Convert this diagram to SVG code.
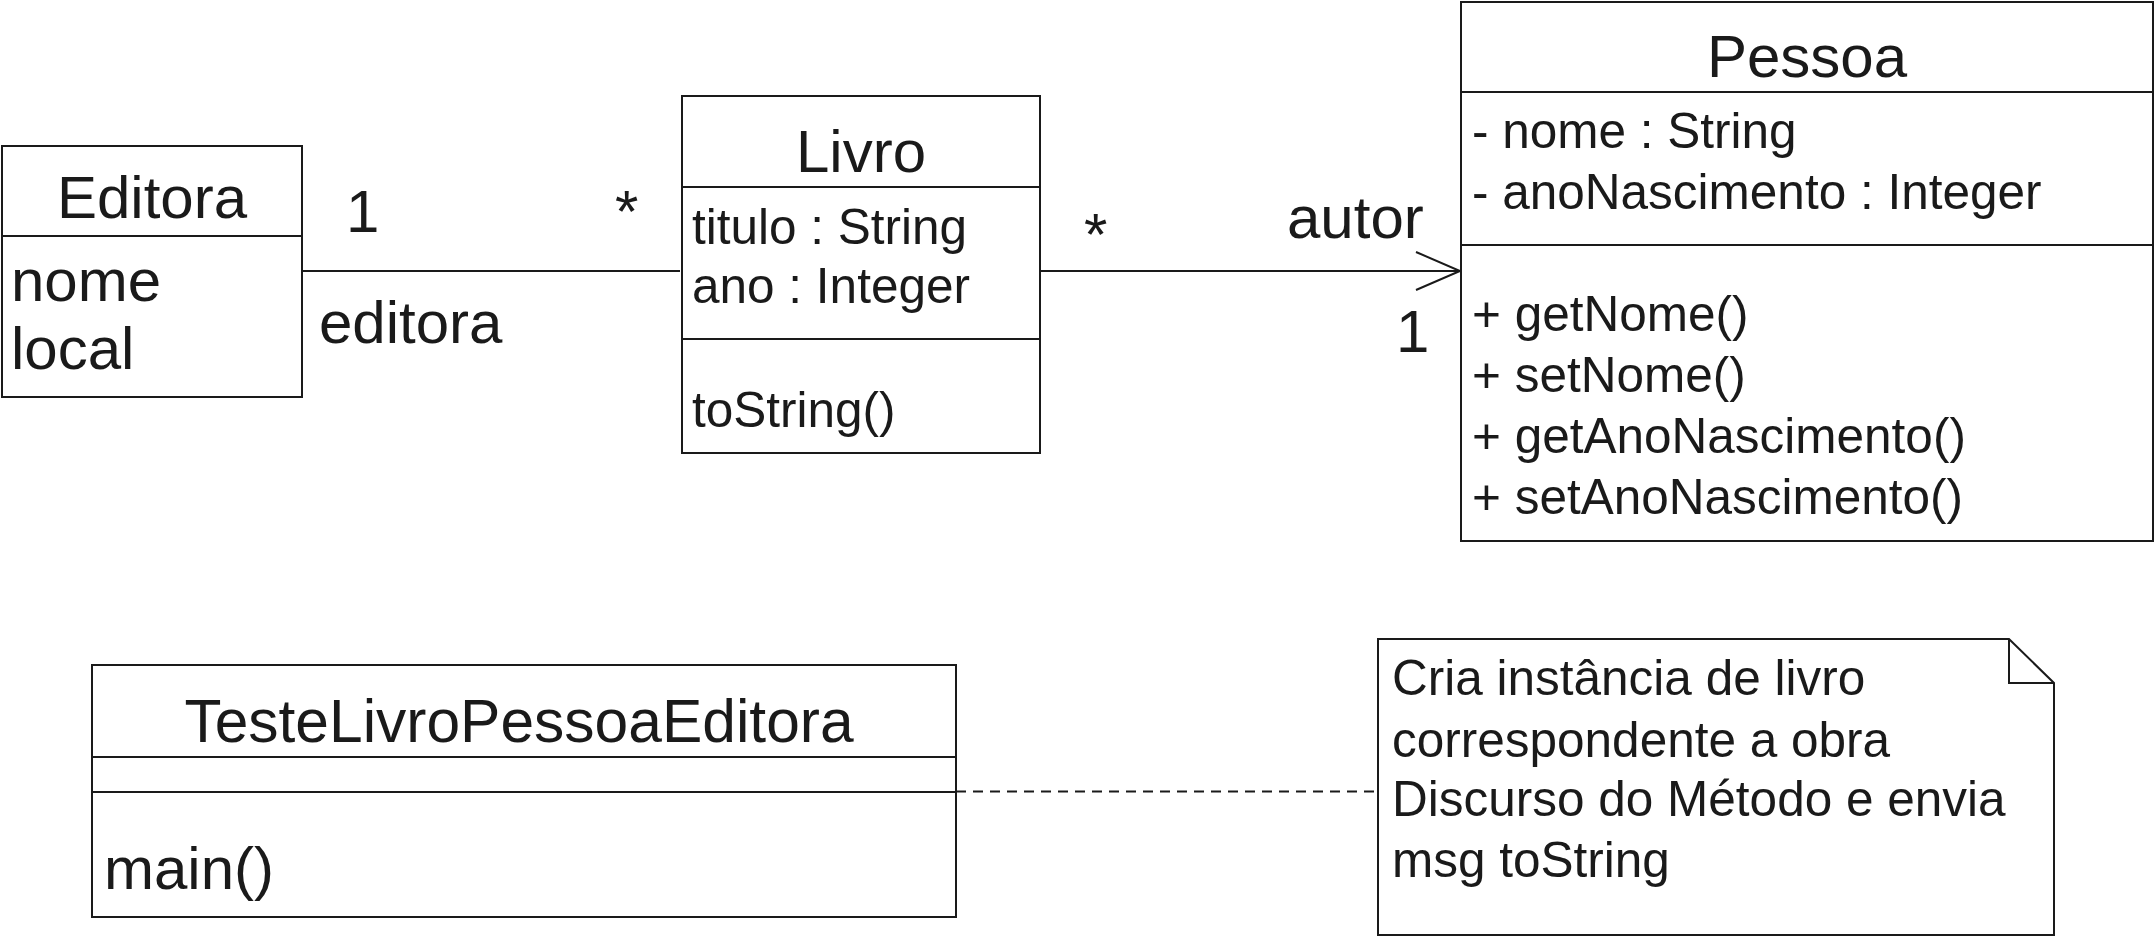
<svg xmlns="http://www.w3.org/2000/svg" width="2155" height="937" viewBox="0 0 2155 937">
<style>
  .box { fill: #ffffff; stroke: #1a1a1a; stroke-width: 2; }
  .ln { stroke: #1a1a1a; stroke-width: 2; fill: none; }
  .dash { stroke: #1a1a1a; stroke-width: 2; fill: none; stroke-dasharray: 10 7; }
  .big { font-family: "Liberation Sans", Arial, sans-serif; font-size: 60px; fill: #1a1a1a; }
  .sm { font-family: "Liberation Sans", Arial, sans-serif; font-size: 49.5px; fill: #1a1a1a; }
  .mid { text-anchor: middle; }
</style>
<rect width="2155" height="937" fill="#ffffff"/>

<g id="connectors">
  <line class="ln" x1="302" y1="271" x2="680" y2="271"/>
  <line class="ln" x1="1040" y1="271" x2="1460" y2="271"/>
  <polyline class="ln" points="1416,252 1460,271 1416,290"/>
  <line class="dash" x1="956" y1="791.5" x2="1377" y2="791.5"/>
  <text class="big" x="346" y="232">1</text>
  <text class="big" x="615" y="232">*</text>
  <text class="big" x="319" y="343">editora</text>
  <text class="big" x="1084" y="255">*</text>
  <text class="big" x="1287" y="238">autor</text>
  <text class="big" x="1396" y="352">1</text>
</g>

<g id="Editora">
  <rect class="box" x="2" y="146" width="300" height="251"/>
  <line class="ln" x1="2" y1="236" x2="302" y2="236"/>
  <text class="big mid" x="152" y="218">Editora</text>
  <text class="big" x="11" y="301">nome</text>
  <text class="big" x="11" y="369">local</text>
</g>

<g id="Livro">
  <rect class="box" x="682" y="96" width="358" height="357"/>
  <line class="ln" x1="682" y1="187" x2="1040" y2="187"/>
  <line class="ln" x1="682" y1="339" x2="1040" y2="339"/>
  <text class="big mid" x="861" y="172">Livro</text>
  <text class="sm" x="692" y="244">titulo : String</text>
  <text class="sm" x="692" y="303">ano : Integer</text>
  <text class="sm" x="692" y="427">toString()</text>
</g>

<g id="Pessoa">
  <rect class="box" x="1461" y="2" width="692" height="539"/>
  <line class="ln" x1="1461" y1="92" x2="2153" y2="92"/>
  <line class="ln" x1="1461" y1="245" x2="2153" y2="245"/>
  <text class="big mid" x="1807" y="77">Pessoa</text>
  <text class="sm" x="1472" y="148">- nome : String</text>
  <text class="sm" x="1472" y="209">- anoNascimento : Integer</text>
  <text class="sm" x="1472" y="331">+ getNome()</text>
  <text class="sm" x="1472" y="392">+ setNome()</text>
  <text class="sm" x="1472" y="453">+ getAnoNascimento()</text>
  <text class="sm" x="1472" y="514">+ setAnoNascimento()</text>
</g>

<g id="TesteLivroPessoaEditora">
  <rect class="box" x="92" y="665" width="864" height="252"/>
  <line class="ln" x1="92" y1="757" x2="956" y2="757"/>
  <line class="ln" x1="92" y1="792" x2="956" y2="792"/>
  <text class="big mid" x="519" y="742" style="font-size:60.5px">TesteLivroPessoaEditora</text>
  <text class="big" x="104" y="889">main()</text>
</g>

<g id="Nota">
  <path class="box" d="M1378,639 L2009,639 L2054,683 L2054,935 L1378,935 Z"/>
  <path class="ln" d="M2009,639 L2009,683 L2054,683"/>
  <text class="sm" x="1392" y="695">Cria instância de livro</text>
  <text class="sm" x="1392" y="757">correspondente a obra</text>
  <text class="sm" x="1392" y="816">Discurso do Método e envia</text>
  <text class="sm" x="1392" y="877">msg toString</text>
</g>
</svg>
